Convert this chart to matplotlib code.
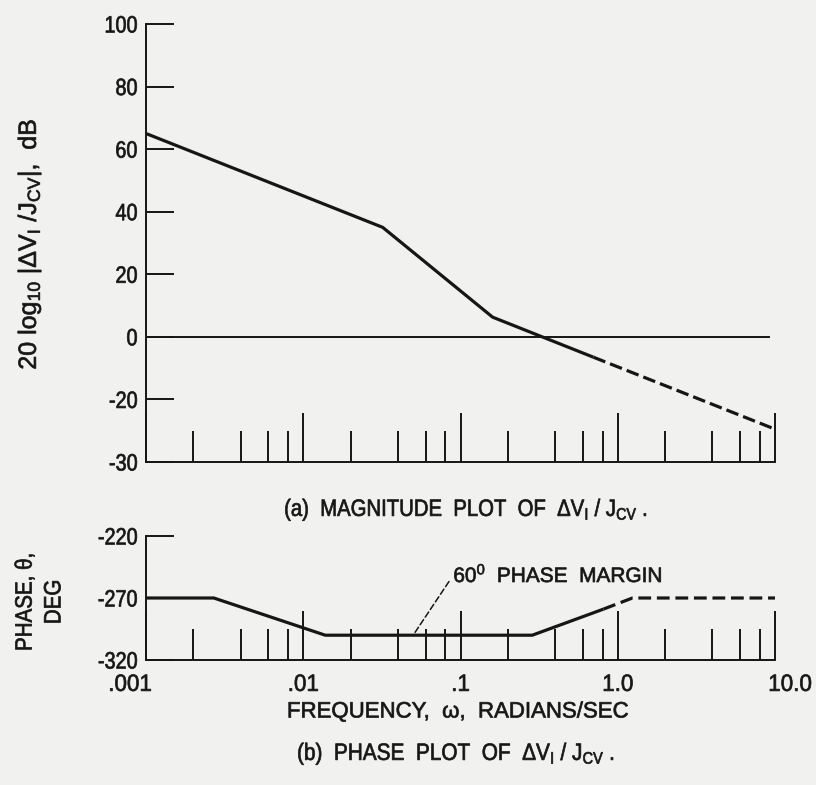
import matplotlib
matplotlib.use("Agg")
import matplotlib.pyplot as plt
from matplotlib import font_manager
from matplotlib.patheffects import AbstractPathEffect
from matplotlib.ticker import FixedLocator, LogLocator, NullFormatter
from matplotlib.transforms import Affine2D, ScaledTranslation

# narrow lettering: use the real narrow face if present, else squeeze the regular one
available = {f.name for f in font_manager.fontManager.ttflist}
if "Liberation Sans Narrow" in available:
    FONT, NARROW = "Liberation Sans Narrow", 1.0 / 0.82
else:
    FONT, NARROW = "Liberation Sans", 1.0
plt.rcParams["font.family"] = [FONT, "DejaVu Sans"]
plt.rcParams["mathtext.fontset"] = "custom"
plt.rcParams["mathtext.rm"] = FONT
plt.rcParams["mathtext.it"] = FONT
plt.rcParams["mathtext.bf"] = FONT


class Squeeze(AbstractPathEffect):
    """Compress glyph paths horizontally about an anchor (0=left, 1=right), slightly emboldened."""

    def __init__(self, sx=0.82, anchor=0.5, lw=0.5):
        super().__init__()
        self.sx = min(sx * NARROW, 1.0) if NARROW != 1.0 else sx
        self.anchor = anchor
        self.lw = lw

    def draw_path(self, renderer, gc, tpath, affine, rgbFace=None):
        ext = tpath.get_extents()
        cx = ext.x0 + self.anchor * ext.width
        squash = Affine2D().translate(-cx, 0).scale(self.sx, 1.0).translate(cx, 0)
        renderer.draw_path(gc, tpath, squash + affine, rgbFace)
        if self.lw > 0 and rgbFace is not None:
            gc0 = renderer.new_gc()
            gc0.copy_properties(gc)
            gc0.set_linewidth(self.lw)
            gc0.set_foreground(rgbFace)
            gc0.set_joinstyle("round")
            renderer.draw_path(gc0, tpath, squash + affine, None)
            gc0.restore()


INK = "#161616"
PAPER = "#f1f1ef"

# magnitude asymptotes (rad/s, dB)
mag_freq = [0.001, 0.032, 0.16, 0.70]
mag_db = [65.0, 35.0, 6.3, -6.5]
mag_ext_freq = [0.70, 10.0]
mag_ext_db = [-6.5, -29.5]

# phase asymptotes (rad/s, deg)
ph_freq = [0.001, 0.0027, 0.0138, 0.286, 0.81]
ph_deg = [-270, -270, -300, -300, -279]
ph_ext_freq = [0.81, 1.24, 10.0]
ph_ext_deg = [-279, -270, -270]

margin_freq = 0.050
margin_deg = -300

mag_ticks = [100, 80, 60, 40, 20, 0, -20, -40]
mag_labels = ["100", "80", "60", "40", "20", "0", "-20", "-30"]
ph_ticks = [-220, -270, -320]
ph_labels = ["-220", "-270", "-320"]
freq_ticks = [0.001, 0.01, 0.1, 1.0, 10.0]
freq_labels = [".001", ".01", ".1", "1.0", "10.0"]

W, H = 816, 785
fig = plt.figure(figsize=(W / 100, H / 100), dpi=100, facecolor=PAPER)


def px_axes(left, top, right, bottom):
    return fig.add_axes([left / W, 1 - bottom / H, (right - left) / W, (bottom - top) / H])


def px_text(x, y, s, squeeze=0.85, **kw):
    kw.setdefault("ha", "center")
    kw.setdefault("va", "center")
    anchor = {"left": 0.0, "center": 0.5, "right": 1.0}[kw["ha"]]
    t = fig.text(x / W, 1 - y / H, s, color=INK, **kw)
    t.set_path_effects([Squeeze(sx=squeeze, anchor=anchor)])
    return t


def style_axes(ax):
    ax.set_facecolor(PAPER)
    ax.set_xscale("log")
    ax.set_xlim(0.001, 10.0)
    for side in ("top", "right"):
        ax.spines[side].set_visible(False)
    for side in ("left", "bottom"):
        ax.spines[side].set_linewidth(1.4)
        ax.spines[side].set_color(INK)
    ax.xaxis.set_major_locator(FixedLocator(freq_ticks))
    ax.xaxis.set_minor_locator(LogLocator(base=10, subs=[2, 4, 6, 8]))
    ax.xaxis.set_minor_formatter(NullFormatter())
    ax.tick_params(axis="x", which="major", direction="in", length=35, width=1.4, color=INK)
    ax.tick_params(axis="x", which="minor", direction="in", length=22, width=1.4, color=INK)
    ax.tick_params(axis="y", which="major", direction="in", length=20, width=1.4, color=INK,
                   labelsize=17, labelcolor=INK, pad=6)
    ax.tick_params(axis="y", which="minor", left=False)


# (a) magnitude
ax1 = px_axes(146, 24, 775, 462)
style_axes(ax1)
ax1.set_ylim(-40, 100)
ax1.set_yticks(mag_ticks)
ax1.set_yticklabels(mag_labels)
ax1.set_xticklabels([])
ax1.axhline(0, xmax=0.99, color=INK, lw=1.4)
ax1.plot(mag_freq, mag_db, color=INK, lw=2.3, solid_capstyle="butt")
ax1.plot(mag_ext_freq, mag_ext_db, color=INK, lw=2.3, dashes=(4, 1.6))

# (b) phase
ax2 = px_axes(146, 536, 775, 660)
style_axes(ax2)
ax2.set_ylim(-320, -220)
ax2.set_yticks(ph_ticks)
ax2.set_yticklabels(ph_labels)
ax2.set_xticklabels(freq_labels)
ax2.tick_params(axis="x", which="major", labelsize=17, labelcolor=INK, pad=10)
ax2.plot(ph_freq, ph_deg, color=INK, lw=2.3, solid_capstyle="butt")
ax2.plot(ph_ext_freq, ph_ext_deg, color=INK, lw=2.3, dashes=(4, 1.8))

note = ax2.annotate("60$^{\\mathregular{0}}$  PHASE  MARGIN", xy=(margin_freq, margin_deg),
                    xytext=(0.090, -251.5), fontsize=15, color=INK, va="center", ha="left",
                    arrowprops=dict(arrowstyle="-", color=INK, lw=1.1, linestyle=(0, (4, 2)),
                                    relpos=(0.0, 0.5), shrinkA=2, shrinkB=0))
note.set_path_effects([Squeeze(sx=1.0, anchor=0.0)])

# axis titles and captions
px_text(29, 244, r"20 log$_{\mathregular{10}}$ |ΔV$_{\mathregular{I}}$ /J$_{\mathregular{CV}}$|,  dB",
        squeeze=1.0, fontsize=18, rotation=90)
px_text(40, 602, "PHASE, θ,\nDEG", squeeze=0.87, fontsize=17, rotation=90, linespacing=1.4)
px_text(458, 712, "FREQUENCY,  ω,  RADIANS/SEC", squeeze=1.0, fontsize=16)
px_text(466, 510, "(a)  MAGNITUDE  PLOT  OF  ΔV$_{\\mathregular{I}}$ / J$_{\\mathregular{CV}}$ .",
        squeeze=0.86, fontsize=17)
px_text(456, 754, "(b)  PHASE  PLOT  OF  ΔV$_{\\mathregular{I}}$ / J$_{\\mathregular{CV}}$ .",
        squeeze=0.88, fontsize=17)

# tick labels get the same narrow treatment
for lab in ax1.get_yticklabels() + ax2.get_yticklabels():
    lab.set_path_effects([Squeeze(sx=0.84, anchor=1.0)])
xlabs = ax2.get_xticklabels()
for lab in xlabs:
    lab.set_path_effects([Squeeze(sx=0.95, anchor=0.5)])
# end labels sit just outside the axis ends
for lab, dx in ((xlabs[0], -16), (xlabs[-1], 15)):
    lab.set_transform(lab.get_transform() + ScaledTranslation(dx / 100, 0, fig.dpi_scale_trans))

fig.savefig("out.png", dpi=100, facecolor=PAPER)
